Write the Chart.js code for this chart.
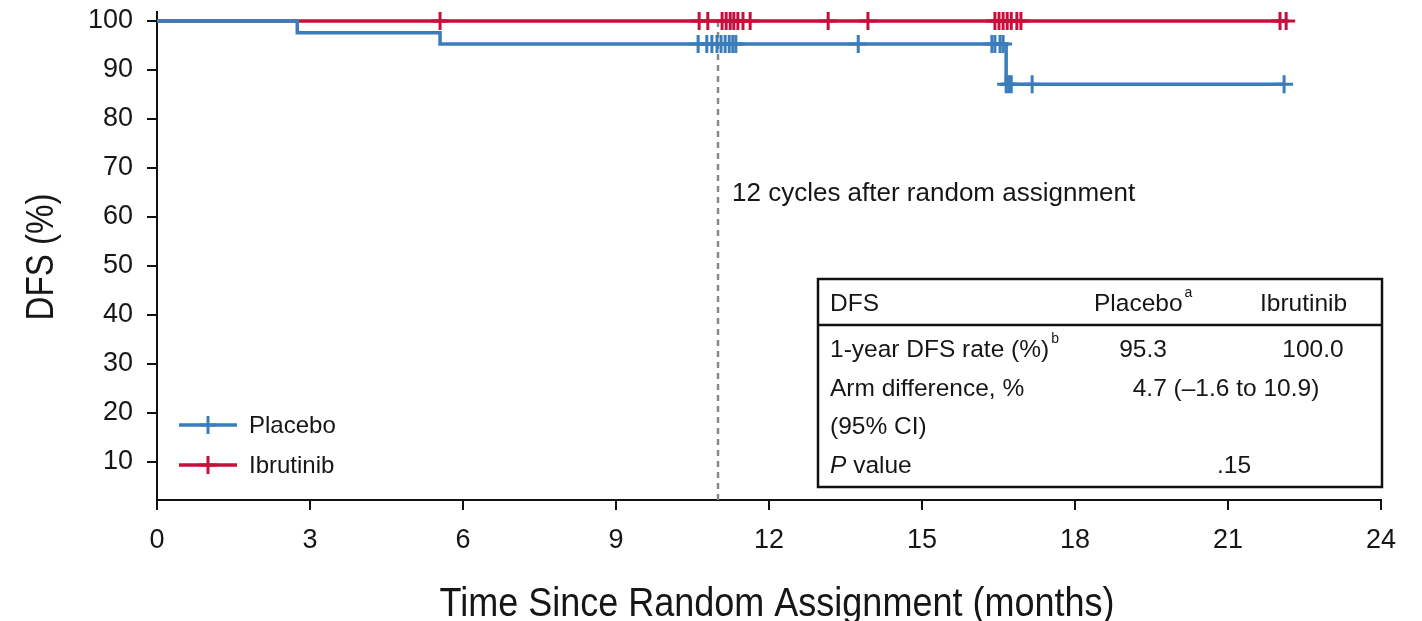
<!DOCTYPE html>
<html><head><meta charset="utf-8">
<script src="https://cdn.jsdelivr.net/npm/chart.js@4/dist/chart.umd.min.js"></script>
<style>html,body{margin:0;padding:0;background:#fff;}#wrap{width:1422px;height:621px;}</style>
</head><body><div id="wrap"><canvas id="c" width="1422" height="621"></canvas></div>
<script>
// ---- data ----
const xTicks = [0, 3, 6, 9, 12, 15, 18, 21, 24];
const yTicks = [10, 20, 30, 40, 50, 60, 70, 80, 90, 100];
const placeboTimes = [0, 2.75, 5.55, 16.65, 22.1];
const placeboSurv = [100, 97.6, 95.3, 87.1, 87.1];
const placeboCensorTimes = [10.61, 10.78, 10.88, 10.98, 11.06, 11.14, 11.22, 11.29, 11.35, 13.75, 16.37, 16.43, 16.53, 16.59, 16.65, 16.7, 16.75, 17.16, 22.1];
const placeboCensorSurv = [95.3, 95.3, 95.3, 95.3, 95.3, 95.3, 95.3, 95.3, 95.3, 95.3, 95.3, 95.3, 95.3, 95.3, 87.1, 87.1, 87.1, 87.1, 87.1];
const ibrutinibTimes = [0, 22.14];
const ibrutinibSurv = [100, 100];
const ibrutinibCensorTimes = [5.55, 10.63, 10.8, 11.08, 11.16, 11.24, 11.31, 11.39, 11.49, 11.63, 13.16, 13.94, 16.43, 16.51, 16.59, 16.67, 16.75, 16.86, 16.94, 22.02, 22.14];
const ibrutinibCensorSurv = [100, 100, 100, 100, 100, 100, 100, 100, 100, 100, 100, 100, 100, 100, 100, 100, 100, 100, 100, 100, 100];
const seriesNames = ['Placebo', 'Ibrutinib'];
const cycleLineMonth = 11.0;
const cycleLabel = '12 cycles after random assignment';
const xTitle = 'Time Since Random Assignment (months)';
const yTitle = 'DFS (%)';
const tableHeader = ['DFS', 'Placebo', 'Ibrutinib'];
const tableRows = [
  ['1-year DFS rate (%)', '95.3', '100.0'],
  ['Arm difference, %', '4.7 (\u20131.6 to 10.9)'],
  ['(95% CI)', ''],
  ['P value', '.15']
];

const BLUE = '#3a7dba';
const RED = '#c4113b';
const INK = '#161616';
const FONT = '"Liberation Sans", Arial, sans-serif';

const pts = (xs, ys) => xs.map((x, i) => ({x: x, y: ys[i]}));

function drawCross(ctx, x, y, r, color) {
  ctx.save();
  ctx.strokeStyle = color; ctx.lineWidth = 3;
  ctx.beginPath();
  ctx.moveTo(x - r, y); ctx.lineTo(x + r, y);
  ctx.moveTo(x, y - r); ctx.lineTo(x, y + r);
  ctx.stroke();
  ctx.restore();
}

const overlay = {
  id: 'overlay',
  beforeDatasetsDraw(chart) {
    const ctx = chart.ctx, xs = chart.scales.x, ys = chart.scales.y;
    const px = xs.getPixelForValue(cycleLineMonth);
    ctx.save();
    ctx.strokeStyle = '#8a8a8a'; ctx.lineWidth = 2.5; ctx.setLineDash([6, 5]);
    ctx.beginPath();
    ctx.moveTo(px, ys.getPixelForValue(100));
    ctx.lineTo(px, chart.chartArea.bottom);
    ctx.stroke();
    ctx.restore();
  },
  afterDatasetsDraw(chart) {
    const ctx = chart.ctx, xs = chart.scales.x, ys = chart.scales.y;
    ctx.save();
    ctx.fillStyle = INK;
    // annotation
    ctx.font = '26px ' + FONT;
    ctx.textBaseline = 'alphabetic';
    ctx.textAlign = 'left';
    ctx.fillText(cycleLabel, xs.getPixelForValue(cycleLineMonth) + 14, ys.getPixelForValue(63.2));

    // axis titles
    ctx.save();
    ctx.font = '40px ' + FONT;
    ctx.textAlign = 'center';
    ctx.translate(777, 616);
    ctx.scale(0.9, 1);
    ctx.fillText(xTitle, 0, 0);
    ctx.restore();
    ctx.save();
    ctx.font = '39px ' + FONT;
    ctx.textAlign = 'center';
    ctx.translate(53, 257);
    ctx.rotate(-Math.PI / 2);
    ctx.scale(0.85, 1);
    ctx.fillText(yTitle, 0, 0);
    ctx.restore();

    // legend
    const colors = [BLUE, RED];
    const legY = [425, 465];
    ctx.textBaseline = 'middle';
    ctx.font = '24px ' + FONT;
    seriesNames.forEach((n, i) => {
      ctx.strokeStyle = colors[i]; ctx.lineWidth = 3.5;
      ctx.beginPath(); ctx.moveTo(179, legY[i]); ctx.lineTo(237, legY[i]); ctx.stroke();
      drawCross(ctx, 208, legY[i], 9, colors[i]);
      ctx.fillStyle = INK;
      ctx.fillText(n, 249, legY[i] + 1);
    });

    // table
    const L = 818, T = 279, R = 1382, B = 487;
    ctx.fillStyle = '#fff';
    ctx.fillRect(L, T, R - L, B - T);
    ctx.strokeStyle = '#111'; ctx.lineWidth = 2.5;
    ctx.strokeRect(L, T, R - L, B - T);
    ctx.beginPath(); ctx.moveTo(L, 325); ctx.lineTo(R, 325); ctx.stroke();
    ctx.fillStyle = INK;
    const F = '24.5px ' + FONT, S = '14px ' + FONT;
    ctx.font = F;
    ctx.textAlign = 'left';
    ctx.fillText(tableHeader[0], 830, 304);
    ctx.fillText(tableHeader[1], 1094, 304);
    let w = ctx.measureText(tableHeader[1]).width;
    ctx.font = S;
    ctx.fillText('a', 1094 + w + 2, 293);
    ctx.font = F;
    ctx.fillText(tableHeader[2], 1260, 304);

    const rowY = [350, 389, 427, 466];
    ctx.fillText(tableRows[0][0], 830, rowY[0]);
    w = ctx.measureText(tableRows[0][0]).width;
    ctx.font = S;
    ctx.fillText('b', 830 + w + 2, rowY[0] - 11);
    ctx.font = F;
    ctx.textAlign = 'center';
    ctx.fillText(tableRows[0][1], 1143, rowY[0]);
    ctx.fillText(tableRows[0][2], 1313, rowY[0]);
    ctx.textAlign = 'left';
    ctx.fillText(tableRows[1][0], 830, rowY[1]);
    ctx.textAlign = 'center';
    ctx.fillText(tableRows[1][1], 1226, rowY[1]);
    ctx.textAlign = 'left';
    ctx.fillText(tableRows[2][0], 830, rowY[2]);
    ctx.font = 'italic ' + F;
    ctx.fillText('P', 830, rowY[3]);
    const pw = ctx.measureText('P').width;
    ctx.font = F;
    ctx.fillText(' value', 830 + pw, rowY[3]);
    ctx.textAlign = 'center';
    ctx.fillText(tableRows[3][1], 1234, rowY[3]);
    ctx.restore();
  }
};

const crossStyle = { pointStyle: 'cross', pointRadius: 9, pointBorderWidth: 3, pointHoverRadius: 9 };

new Chart(document.getElementById('c'), {
  type: 'line',
  data: {
    datasets: [
      { label: seriesNames[1], data: pts(ibrutinibTimes, ibrutinibSurv), borderColor: RED, borderWidth: 3.5, stepped: 'before', pointRadius: 0, order: 4 },
      Object.assign({ type: 'scatter', label: seriesNames[1] + ' censored', data: pts(ibrutinibCensorTimes, ibrutinibCensorSurv), borderColor: RED, backgroundColor: RED, showLine: false, order: 3 }, crossStyle),
      { label: seriesNames[0], data: pts(placeboTimes, placeboSurv), borderColor: BLUE, borderWidth: 3.5, stepped: 'before', pointRadius: 0, order: 2 },
      Object.assign({ type: 'scatter', label: seriesNames[0] + ' censored', data: pts(placeboCensorTimes, placeboCensorSurv), borderColor: BLUE, backgroundColor: BLUE, showLine: false, order: 1 }, crossStyle)
    ]
  },
  options: {
    responsive: false,
    animation: false,
    devicePixelRatio: 1,
    layout: { padding: { top: 12, right: 41, left: 0, bottom: 0 } },
    plugins: { legend: { display: false }, tooltip: { enabled: false } },
    scales: {
      x: {
        type: 'linear', min: 0, max: 24,
        afterBuildTicks: s => { s.ticks = xTicks.map(v => ({ value: v })); },
        afterFit: s => { s.height = 121; s.paddingLeft = 0; s.paddingRight = 0; },
        grid: { drawOnChartArea: false, drawTicks: true, tickLength: 10, color: '#111', lineWidth: 2 },
        border: { color: '#111', width: 2 },
        ticks: { font: { size: 27, family: FONT }, color: INK, padding: 14, maxRotation: 0, autoSkip: false }
      },
      y: {
        type: 'linear', min: 2.24, max: 101.84,
        afterBuildTicks: s => { s.ticks = yTicks.map(v => ({ value: v })); },
        afterFit: s => { s.width = 157; s.paddingTop = 0; s.paddingBottom = 0; },
        grid: { drawOnChartArea: false, drawTicks: true, tickLength: 10, color: '#111', lineWidth: 2 },
        border: { color: '#111', width: 2 },
        ticks: { font: { size: 27, family: FONT }, color: INK, padding: 14, autoSkip: false }
      }
    }
  },
  plugins: [overlay]
});
</script></body></html>
